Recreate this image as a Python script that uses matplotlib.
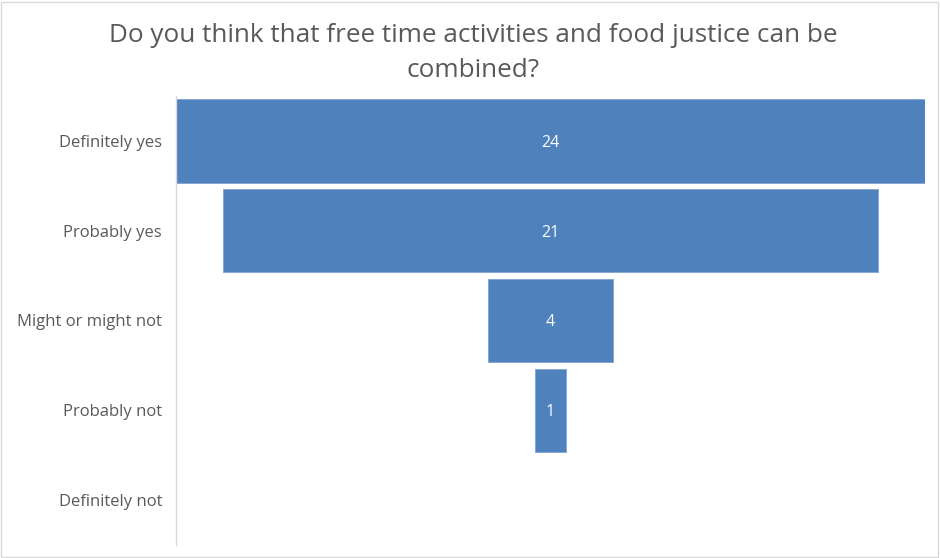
import matplotlib
matplotlib.use("Agg")
import matplotlib.pyplot as plt
from matplotlib.patches import Rectangle

categories = ["Definitely yes", "Probably yes", "Might or might not", "Probably not", "Definitely not"]
values = [24, 21, 4, 1, 0]
title = "Do you think that free time activities and food justice can be\ncombined?"

plt.rcParams['font.family'] = ['Open Sans', 'DejaVu Sans']

W, H = 940, 558
fig = plt.figure(figsize=(W/100, H/100), dpi=100)
ax = fig.add_axes([176/W, 1 - 545/H, (925-176)/W, (545-96)/H])

ypos = list(range(len(categories)))
lefts = [-v/2 for v in values]
for y, v, l in zip(ypos, values, lefts):
    if v > 0:
        ax.barh(y, v, left=l, height=0.93, color="#4f81bd", edgecolor="#7fa3d1", linewidth=0.6)
        ax.text(0, y, str(v), ha="center", va="center_baseline", color="white", fontsize=11.5)

ax.set_xlim(-12, 12)
ax.set_ylim(len(categories) - 0.5, -0.5)
ax.set_yticks(ypos)
ax.set_yticklabels(categories, color="#595959", fontsize=12)
ax.tick_params(axis="y", length=0, pad=10)
ax.set_xticks([])
for s in ["top", "right", "bottom"]:
    ax.spines[s].set_visible(False)
ax.spines["left"].set_color("#d9d9d9")
ax.spines["left"].set_linewidth(1.0)

fig.text(473/W, 1 - 53/H, title, ha="center", va="center", color="#595959",
         fontsize=18.8, linespacing=1.5)

fig.add_artist(Rectangle((1/W, 1/H), (W-3)/W, (H-3)/H, transform=fig.transFigure,
                         fill=False, edgecolor="#d9d9d9", linewidth=1))

fig.savefig("out.png", dpi=100)
